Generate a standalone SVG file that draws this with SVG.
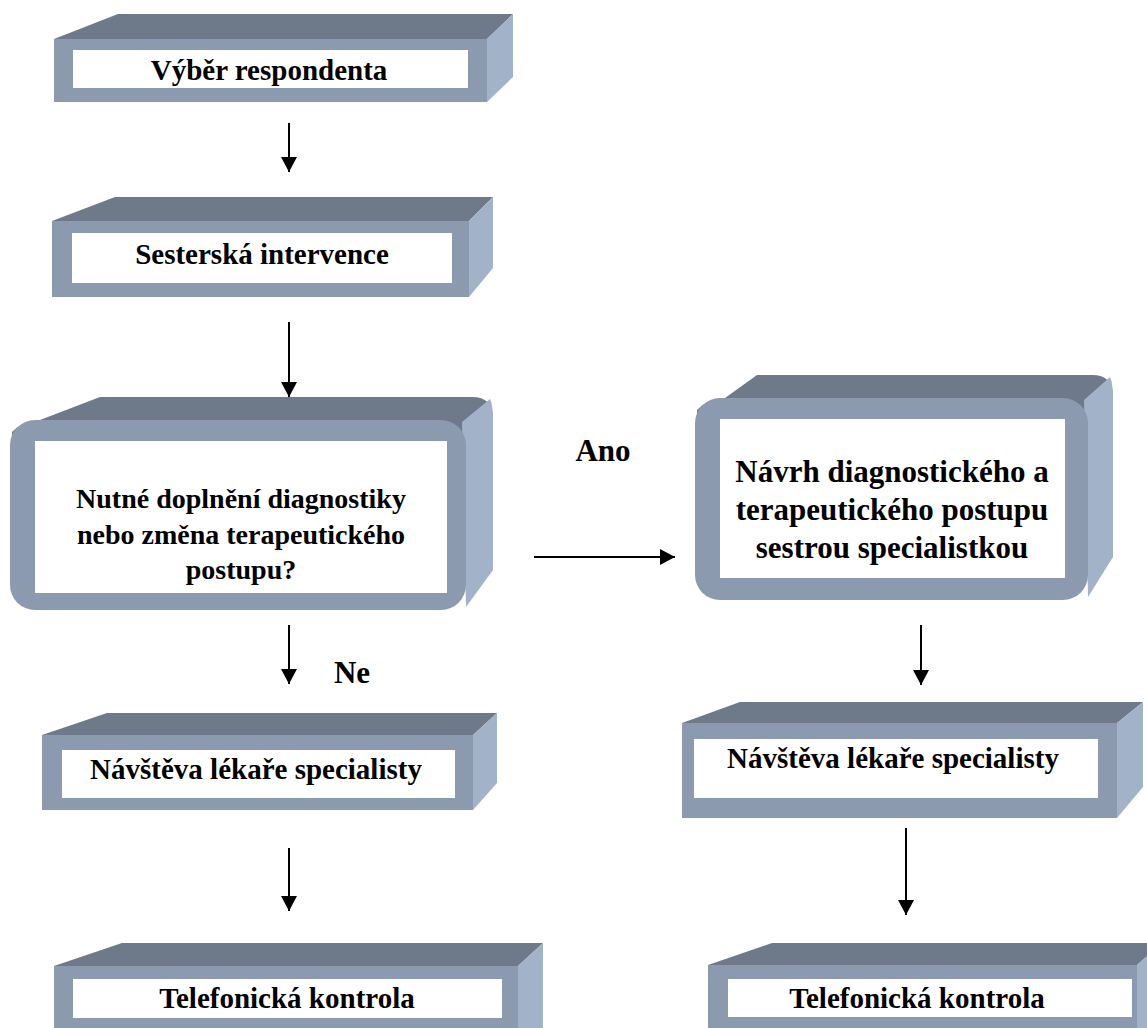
<svg xmlns="http://www.w3.org/2000/svg" width="1147" height="1028" viewBox="0 0 1147 1028">
<defs>
<style>
.top{fill:#6E7A8A}
.front{fill:#8B9AAE}
.side{fill:#A2B2C8}
.inner{fill:#FFFFFF}
.lbl{font-family:"Liberation Serif","Times New Roman",serif;font-weight:bold;font-size:29px;fill:#000;text-anchor:middle}
.q{font-size:28px}
.big{font-size:31px}
.conn{stroke:#000;stroke-width:2;fill:none}
</style>
<marker id="ah" markerUnits="userSpaceOnUse" markerWidth="16" markerHeight="16" refX="15" refY="8" orient="auto">
<path d="M0,0 L15,8 L0,16 Z" fill="#000"/>
</marker>
</defs>
<rect width="1147" height="1028" fill="#FFFFFF"/>

<g id="n1">
<polygon class="top" points="54,39 118,14 513,14 487,39"/>
<polygon class="side" points="487,39 513,14 513,77 487,102"/>
<rect class="front" x="54" y="39" width="433" height="63"/>
<rect class="inner" x="73" y="50" width="395" height="38"/>
<text class="lbl" x="269" y="80">Výběr respondenta</text>
</g>

<g id="n2">
<polygon class="top" points="52,221 115,197 493,197 469,221"/>
<polygon class="side" points="469,221 493,197 493,268 469,297"/>
<rect class="front" x="52" y="221" width="417" height="76"/>
<rect class="inner" x="72" y="233" width="380" height="50"/>
<text class="lbl" x="262" y="264">Sesterská intervence</text>
</g>

<g id="n3">
<path class="top" d="M12,432 Q20,423 40,420 L100,397 L472,397 Q493,397 493,418 L466,440 L12,440 Z"/>
<path class="side" d="M462,422 L490,399 Q493,405 493,420 L493,570 L466,607 Z"/>
<rect class="front" x="10" y="420" width="456" height="190" rx="25" ry="25"/>
<rect class="inner" x="35" y="441" width="412" height="152"/>
<text class="lbl q" x="241" y="508">Nutné doplnění diagnostiky</text>
<text class="lbl q" x="241" y="544">nebo změna terapeutického</text>
<text class="lbl q" x="241" y="579">postupu?</text>
</g>

<g id="n4">
<path class="top" d="M697,410 Q705,401 725,398 L757,375 L1092,375 Q1113,375 1113,396 L1088,420 L697,420 Z"/>
<path class="side" d="M1084,400 L1110,377 Q1113,383 1113,398 L1113,557 L1088,597 Z"/>
<rect class="front" x="695" y="398" width="393" height="202" rx="25" ry="25"/>
<rect class="inner" x="720" y="419" width="345" height="159"/>
<text class="lbl big" x="892" y="482">Návrh diagnostického a</text>
<text class="lbl big" x="892" y="520">terapeutického postupu</text>
<text class="lbl big" x="892" y="558">sestrou specialistkou</text>
</g>

<g id="n5">
<polygon class="top" points="42,735 107,713 497,713 473,735"/>
<polygon class="side" points="473,735 497,713 497,783 473,810"/>
<rect class="front" x="42" y="735" width="431" height="75"/>
<rect class="inner" x="62" y="750" width="393" height="48"/>
<text class="lbl" x="256" y="779">Návštěva lékaře specialisty</text>
</g>

<g id="n6">
<polygon class="top" points="682,723 740,702 1143,702 1117,723"/>
<polygon class="side" points="1117,723 1143,702 1143,787 1117,818"/>
<rect class="front" x="682" y="723" width="435" height="95"/>
<rect class="inner" x="694" y="739" width="404" height="59"/>
<text class="lbl" x="893" y="768">Návštěva lékaře specialisty</text>
</g>

<g id="n7">
<polygon class="top" points="54,966 122,943 543,943 518,966"/>
<polygon class="side" points="518,966 543,943 543,1028 518,1028"/>
<rect class="front" x="54" y="966" width="464" height="62"/>
<rect class="inner" x="73" y="979" width="429" height="39"/>
<text class="lbl" x="287" y="1008">Telefonická kontrola</text>
</g>

<g id="n8">
<polygon class="top" points="708,965 772,943 1162,943 1137,965"/>
<polygon class="side" points="1137,965 1162,943 1162,1028 1137,1028"/>
<rect class="front" x="708" y="965" width="429" height="63"/>
<rect class="inner" x="728" y="979" width="404" height="38"/>
<text class="lbl" x="917" y="1008">Telefonická kontrola</text>
</g>

<g id="connectors">
<line class="conn" x1="289" y1="123" x2="289" y2="172" marker-end="url(#ah)"/>
<line class="conn" x1="289" y1="322" x2="289" y2="397" marker-end="url(#ah)"/>
<line class="conn" x1="534" y1="557" x2="675" y2="557" marker-end="url(#ah)"/>
<line class="conn" x1="289" y1="625" x2="289" y2="684" marker-end="url(#ah)"/>
<line class="conn" x1="289" y1="848" x2="289" y2="911" marker-end="url(#ah)"/>
<line class="conn" x1="921" y1="625" x2="921" y2="685" marker-end="url(#ah)"/>
<line class="conn" x1="906" y1="828" x2="906" y2="915" marker-end="url(#ah)"/>
</g>

<g id="labels">
<text class="lbl big" x="603" y="461">Ano</text>
<text class="lbl big" x="352" y="683">Ne</text>
</g>
</svg>
